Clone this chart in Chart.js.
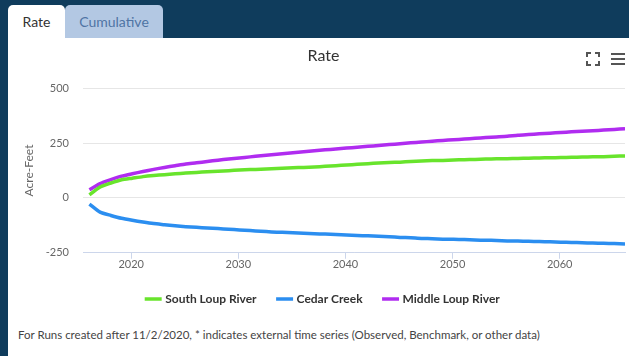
<!DOCTYPE html>
<html>
<head>
<meta charset="utf-8">
<script src="https://cdn.jsdelivr.net/npm/chart.js@4.4.1/dist/chart.umd.min.js"></script>
<style>
  html, body { margin: 0; padding: 0; }
  body {
    width: 629px; height: 356px; overflow: hidden; position: relative;
    background: #0f3c5c; font-family: 'Lato', sans-serif;
  }
  .tab {
    position: absolute; top: 5px; height: 33px; border-radius: 5px 5px 0 0;
    font-size: 14px; line-height: 33px; text-align: center;
  }
  .tab-rate { left: 8px; width: 57px; background: #fff; color: #333; }
  .tab-cum { left: 65px; width: 98px; background: #b3c8e3; color: #4f74a4; }
  .panel {
    position: absolute; left: 8px; top: 38px; width: 621px; height: 318px;
    background: #fff;
  }
  .chart-box { position: absolute; left: 0; top: 0; width: 621px; height: 277px; }
  .footer {
    position: absolute; left: 10px; top: 290px; font-size: 11.5px; color: #444;
  }
  .fs {
    position: absolute; left: 578px; top: 14px; width: 14px; height: 14px;
  }
  .fs span { position: absolute; width: 3px; height: 3px; border: 0 solid #555; }
  .fs .a { left: 0; top: 0; border-left-width: 2px; border-top-width: 2px; }
  .fs .b { right: 0; top: 0; border-right-width: 2px; border-top-width: 2px; }
  .fs .c { left: 0; bottom: 0; border-left-width: 2px; border-bottom-width: 2px; }
  .fs .d { right: 0; bottom: 0; border-right-width: 2px; border-bottom-width: 2px; }
  .menu { position: absolute; left: 603px; top: 15px; width: 14px; }
  .menu span { display: block; height: 2px; background: #555; margin-bottom: 3px; }
</style>
</head>
<body>
<div class="tab tab-rate">Rate</div>
<div class="tab tab-cum">Cumulative</div>
<div class="panel">
  <div class="chart-box"><canvas id="chart"></canvas></div>
  <div class="fs"><span class="a"></span><span class="b"></span><span class="c"></span><span class="d"></span></div>
  <div class="menu"><span></span><span></span><span></span></div>
  <div class="footer">For Runs created after 11/2/2020, * indicates external time series (Observed, Benchmark, or other data)</div>
</div>
<script>
// yearly values, 2016 .. 2066
const years = [];
for (let y = 2016; y <= 2066; y++) years.push(y);

const southLoup = [14, 50, 68, 83, 90, 97, 102, 106, 110, 113,
  116, 119, 122, 124, 127, 129, 131, 133, 135, 137,
  139, 141, 144, 147, 150, 153, 156, 159, 161, 163,
  166, 168, 170, 171, 173, 174, 175, 177, 178, 179,
  180, 181, 182, 183, 184, 185, 186, 187, 188, 190, 191];

const cedarCreek = [-28, -65, -80, -93, -102, -110, -117, -122, -127, -131,
  -134, -137, -140, -143, -146, -149, -152, -155, -157, -159,
  -161, -163, -165, -167, -169, -171, -173, -175, -177, -180,
  -182, -185, -186, -188, -189, -190, -192, -193, -194, -196,
  -197, -198, -199, -200, -202, -203, -204, -206, -207, -208, -210];

const middleLoup = [37, 65, 83, 99, 110, 120, 130, 139, 147, 155,
  160, 166, 172, 177, 182, 187, 192, 197, 201, 206,
  210, 215, 219, 223, 227, 231, 235, 239, 243, 247,
  251, 255, 258, 262, 265, 268, 272, 275, 278, 281,
  286, 289, 292, 295, 298, 301, 304, 306, 309, 312, 315];

const yTicks = [-250, 0, 250, 500];
const xTicks = [2020, 2030, 2040, 2050, 2060];

const GREEN = '#68e42c';
const BLUE = '#2b8ef0';
const PURPLE = '#b02cf0';
const FONT = "'Lato', sans-serif";

const pts = (vals) => vals.map((v, i) => ({ x: years[i] + 0.1, y: v }));

const line = (label, vals, color) => ({
  label,
  data: pts(vals),
  borderColor: color,
  backgroundColor: color,
  borderWidth: 3.5,
  pointRadius: 0,
  tension: 0.2,
});

new Chart(document.getElementById('chart'), {
  type: 'line',
  data: {
    datasets: [
      line('South Loup River', southLoup, GREEN),
      line('Cedar Creek', cedarCreek, BLUE),
      line('Middle Loup River', middleLoup, PURPLE),
    ],
  },
  options: {
    responsive: true,
    maintainAspectRatio: false,
    animation: false,
    layout: { padding: { left: 14, right: 4, top: 0, bottom: 0 } },
    plugins: {
      title: {
        display: true,
        text: 'Rate',
        color: '#333',
        font: { family: FONT, size: 16, weight: 'normal' },
        padding: { top: 8, bottom: 23 },
      },
      legend: {
        position: 'bottom',
        labels: {
          color: '#333',
          usePointStyle: true,
          pointStyle: 'line',
          boxWidth: 14,
          padding: 22,
          font: { family: FONT, size: 12, weight: 'bold' },
        },
      },
      tooltip: { enabled: false },
    },
    scales: {
      x: {
        type: 'linear',
        min: 2015.5,
        max: 2066.1,
        afterBuildTicks: (s) => { s.ticks = xTicks.map((v) => ({ value: v })); },
        grid: { drawOnChartArea: false, drawTicks: true, tickLength: 6, color: '#ccd6eb' },
        border: { color: '#ccd6eb' },
        ticks: {
          color: '#666',
          padding: 2,
          font: { family: FONT, size: 11, lineHeight: 0.75 },
          callback: (v) => String(v),
        },
      },
      y: {
        min: -250,
        max: 500,
        afterBuildTicks: (s) => { s.ticks = yTicks.map((v) => ({ value: v })); },
        afterFit: (s) => { s.width = 61; },
        grid: { color: '#e6e6e6', drawTicks: false },
        border: { display: false },
        title: {
          display: true,
          text: 'Acre-Feet',
          color: '#666',
          font: { family: FONT, size: 12 },
          padding: 0,
        },
        ticks: {
          color: '#666',
          padding: 14,
          font: { family: FONT, size: 11 },
        },
      },
    },
  },
});
</script>
</body>
</html>
